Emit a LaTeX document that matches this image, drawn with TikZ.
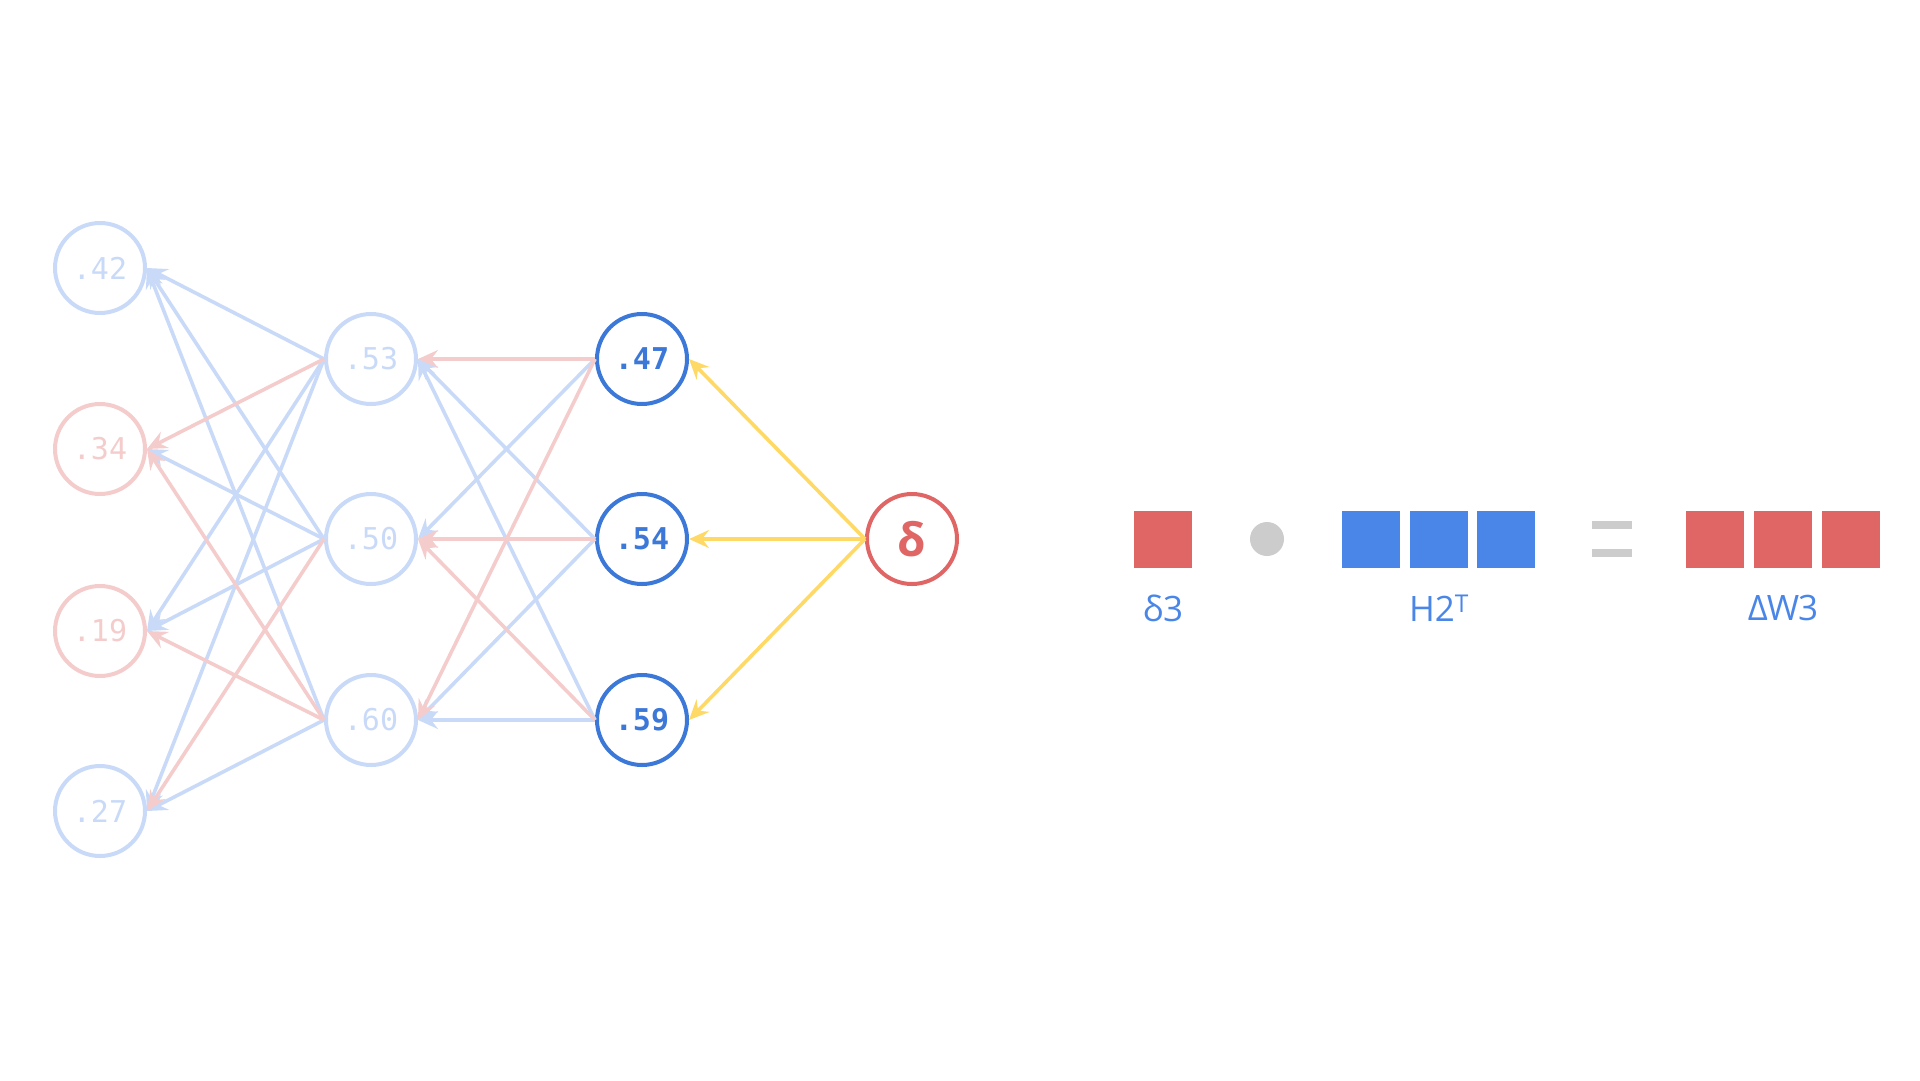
\documentclass[tikz,border=0pt]{standalone}
\usepackage{fontspec}
\setmainfont{Open Sans}
\newfontfamily\monofont{DejaVu Sans Mono}
\usetikzlibrary{arrows.meta}
\definecolor{lblue}{HTML}{C9DAF8}
\definecolor{lred}{HTML}{F4CCCC}
\definecolor{dblue}{HTML}{3C78D8}
\definecolor{sqblue}{HTML}{4A86E8}
\definecolor{sqred}{HTML}{E06666}
\definecolor{yel}{HTML}{FFD966}
\definecolor{gry}{HTML}{CCCCCC}
\tikzset{
  neuron/.style={circle,minimum size=90pt,inner sep=0pt,line width=4pt,fill=white,font=\monofont\fontsize{30}{30}\selectfont},
  fadeb/.style={neuron,draw=lblue,text=lblue},
  fader/.style={neuron,draw=lred,text=lred},
  act/.style={neuron,draw=dblue,text=dblue,font=\monofont\bfseries\fontsize{30}{30}\selectfont},
  edge/.style={line width=3.6pt,-{Stealth[length=20pt,width=18pt,inset=7pt]}},
  eb/.style={edge,draw=lblue},
  er/.style={edge,draw=lred},
  ey/.style={edge,draw=yel},
  sq/.style={minimum width=58pt,minimum height=57pt,inner sep=0pt,draw=none},
  lab/.style={text=sqblue,font=\fontsize{35}{35}\selectfont,inner sep=0pt}
}
\begin{document}
\begin{tikzpicture}[x=1pt,y=-1pt]
\useasboundingbox (0,0) rectangle (1920,1080);
% layer 1
\node[fadeb] (a1) at (100,268) {.42};
\node[fader] (a2) at (100,449) {.34};
\node[fader] (a3) at (100,631) {.19};
\node[fadeb] (a4) at (100,811) {.27};
% layer 2
\node[fadeb] (b1) at (371,359) {.53};
\node[fadeb] (b2) at (371,539) {.50};
\node[fadeb] (b3) at (371,720) {.60};
% layer 3
\node[act] (c1) at (642,359) {.47};
\node[act] (c2) at (642,539) {.54};
\node[act] (c3) at (642,720) {.59};
% delta
\node[neuron,draw=sqred,text=sqred,font=\bfseries\fontsize{46}{46}\selectfont] (d) at (912,539) {δ};
% yellow
\draw[ey] (d.west) -- (c1.east);
\draw[ey] (d.west) -- (c2.east);
\draw[ey] (d.west) -- (c3.east);
% layer 3 -> 2
\draw[eb] (c1.west) -- (b2.east);
\draw[eb] (c2.west) -- (b1.east);
\draw[eb] (c2.west) -- (b3.east);
\draw[eb] (c3.west) -- (b1.east);
\draw[eb] (c3.west) -- (b3.east);
\draw[er] (c1.west) -- (b1.east);
\draw[er] (c1.west) -- (b3.east);
\draw[er] (c2.west) -- (b2.east);
\draw[er] (c3.west) -- (b2.east);
% layer 2 -> 1
\draw[eb] (b1.west) -- (a1.east);
\draw[eb] (b1.west) -- (a3.east);
\draw[eb] (b1.west) -- (a4.east);
\draw[eb] (b2.west) -- (a1.east);
\draw[eb] (b2.west) -- (a2.east);
\draw[eb] (b2.west) -- (a3.east);
\draw[eb] (b3.west) -- (a1.east);
\draw[eb] (b3.west) -- (a4.east);
\draw[er] (b1.west) -- (a2.east);
\draw[er] (b2.west) -- (a4.east);
\draw[er] (b3.west) -- (a2.east);
\draw[er] (b3.west) -- (a3.east);
% equation
\node[sq,fill=sqred] (s1) at (1163,539.5) {};
\node[circle,fill=gry,minimum size=34pt,inner sep=0pt] (dot) at (1267,539) {};
\node[sq,fill=sqblue] (h1) at (1371,539.5) {};
\node[sq,fill=sqblue] (h2) at (1439,539.5) {};
\node[sq,fill=sqblue] (h3) at (1506,539.5) {};
\fill[gry] (1592,521) rectangle (1632,529);
\fill[gry] (1592,549) rectangle (1632,557);
\coordinate (eq) at (1612,539);
\node[sq,fill=sqred] (w1) at (1715,539.5) {};
\node[sq,fill=sqred] (w2) at (1783,539.5) {};
\node[sq,fill=sqred] (w3) at (1851,539.5) {};
\node[lab] (l1) at (1163,608) {δ3};
\node[lab] (l2) at (1439,608) {H2\textsuperscript{T}};
\node[lab] (l3) at (1783,608) {\addfontfeature{LetterSpace=-3}ΔW3};
\end{tikzpicture}
\end{document}
